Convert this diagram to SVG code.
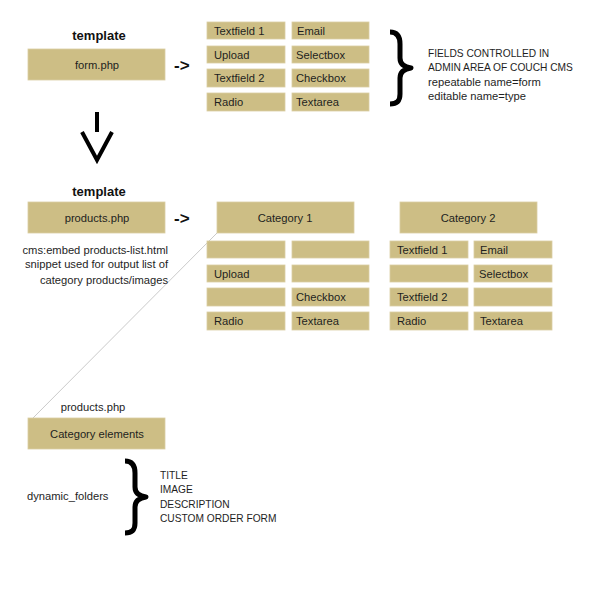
<svg xmlns="http://www.w3.org/2000/svg" width="600" height="612" viewBox="0 0 600 612">
<style>
.box{fill:#cdbe85;stroke:#d9cea2;stroke-width:0.8}
.t{font-family:"Liberation Sans",Arial,sans-serif;font-size:11.2px;fill:#1e1e1e}
.c{text-anchor:middle}
.h{font-family:"Liberation Sans",Arial,sans-serif;font-size:13px;font-weight:bold;fill:#111;text-anchor:middle}
.n{font-family:"Liberation Sans",Arial,sans-serif;font-size:11.2px;fill:#1e1e1e}
.u{font-family:"Liberation Sans",Arial,sans-serif;font-size:10.2px;fill:#1e1e1e}
.ar{font-family:"Liberation Sans",Arial,sans-serif;font-size:17px;font-weight:bold;fill:#111}
.brace{fill:none;stroke:#000;stroke-width:5;stroke-linejoin:round}
</style>
<rect width="600" height="612" fill="#fff"/>

<g id="title1"><text class="h" x="99" y="40">template</text></g>
<g id="form"><rect class="box" x="28" y="49" width="137" height="31"/><text class="t c" x="97" y="69">form.php</text></g>
<g id="arrow1"><text class="ar" x="174" y="71">-&gt;</text></g>

<g id="fields1">
<rect class="box" x="207" y="22" width="78" height="17"/><text class="t" x="214" y="35">Textfield 1</text>
<rect class="box" x="292" y="22" width="77" height="17"/><text class="t" x="297" y="35">Email</text>
<rect class="box" x="207" y="46" width="78" height="17"/><text class="t" x="214" y="59">Upload</text>
<rect class="box" x="292" y="46" width="77" height="17"/><text class="t" x="296" y="59">Selectbox</text>
<rect class="box" x="207" y="69" width="78" height="18"/><text class="t" x="214" y="82">Textfield 2</text>
<rect class="box" x="292" y="69" width="77" height="18"/><text class="t" x="296" y="82">Checkbox</text>
<rect class="box" x="207" y="93" width="78" height="18"/><text class="t" x="214" y="106">Radio</text>
<rect class="box" x="292" y="93" width="77" height="18"/><text class="t" x="296" y="106">Textarea</text>
</g>

<g id="brace1">
<path class="brace" d="M390,32 C397,32 400,36 400,44 L400,58 C400,64 404,67 411,68 C404,69 400,72 400,78 L400,94 C400,101 397,104 390,104"/>
<text class="u" x="428" y="57">FIELDS CONTROLLED IN</text>
<text class="u" x="428" y="71">ADMIN AREA OF COUCH CMS</text>
<text class="n" x="428" y="86">repeatable name=form</text>
<text class="n" x="428" y="100">editable name=type</text>
</g>

<g id="connectors">
<path d="M97,112 V132" fill="none" stroke="#000" stroke-width="4"/>
<path d="M82,132 L97,160 L112,132" fill="none" stroke="#000" stroke-width="4"/>
<line x1="217" y1="233" x2="33" y2="418" stroke="#bdbdbd" stroke-width="0.8"/>
</g>

<g id="title2"><text class="h" x="99" y="196">template</text></g>
<g id="products"><rect class="box" x="28" y="202" width="137" height="31"/><text class="t c" x="97" y="222">products.php</text></g>
<g id="arrow2"><text class="ar" x="174" y="224">-&gt;</text></g>
<g id="embed-note">
<text class="n" x="168" y="254" text-anchor="end">cms:embed products-list.html</text>
<text class="n" x="168" y="268" text-anchor="end">snippet used for output list of</text>
<text class="n" x="168" y="284" text-anchor="end">category products/images</text>
</g>

<g id="category1">
<rect class="box" x="217" y="202" width="137" height="31"/><text class="t c" x="285" y="222">Category 1</text>
<rect class="box" x="207" y="241" width="78" height="17"/>
<rect class="box" x="292" y="241" width="77" height="17"/>
<rect class="box" x="207" y="265" width="78" height="17"/><text class="t" x="214" y="278">Upload</text>
<rect class="box" x="292" y="265" width="77" height="17"/>
<rect class="box" x="207" y="288" width="78" height="18"/>
<rect class="box" x="292" y="288" width="77" height="18"/><text class="t" x="296" y="301">Checkbox</text>
<rect class="box" x="207" y="312" width="78" height="18"/><text class="t" x="214" y="325">Radio</text>
<rect class="box" x="292" y="312" width="77" height="18"/><text class="t" x="296" y="325">Textarea</text>
</g>

<g id="category2">
<rect class="box" x="400" y="202" width="137" height="31"/><text class="t c" x="468" y="222">Category 2</text>
<rect class="box" x="390" y="241" width="78" height="17"/><text class="t" x="397" y="254">Textfield 1</text>
<rect class="box" x="474" y="241" width="78" height="17"/><text class="t" x="480" y="254">Email</text>
<rect class="box" x="390" y="265" width="78" height="17"/>
<rect class="box" x="474" y="265" width="78" height="17"/><text class="t" x="479" y="278">Selectbox</text>
<rect class="box" x="390" y="288" width="78" height="18"/><text class="t" x="397" y="301">Textfield 2</text>
<rect class="box" x="474" y="288" width="78" height="18"/>
<rect class="box" x="390" y="312" width="78" height="18"/><text class="t" x="397" y="325">Radio</text>
<rect class="box" x="474" y="312" width="78" height="18"/><text class="t" x="480" y="325">Textarea</text>
</g>

<g id="category-elements">
<text class="t c" x="93" y="411">products.php</text>
<rect class="box" x="28" y="418" width="137" height="31"/><text class="t c" x="97" y="438">Category elements</text>
</g>

<g id="brace2">
<text class="n" x="27" y="500">dynamic_folders</text>
<path class="brace" d="M125,461 C132,461 135,465 135,473 L135,487 C135,493 139,496 146,497 C139,498 135,501 135,507 L135,523 C135,530 132,533 125,533"/>
<text class="u" x="160" y="479">TITLE</text>
<text class="u" x="160" y="493">IMAGE</text>
<text class="u" x="160" y="508">DESCRIPTION</text>
<text class="u" x="160" y="522">CUSTOM ORDER FORM</text>
</g>
</svg>
